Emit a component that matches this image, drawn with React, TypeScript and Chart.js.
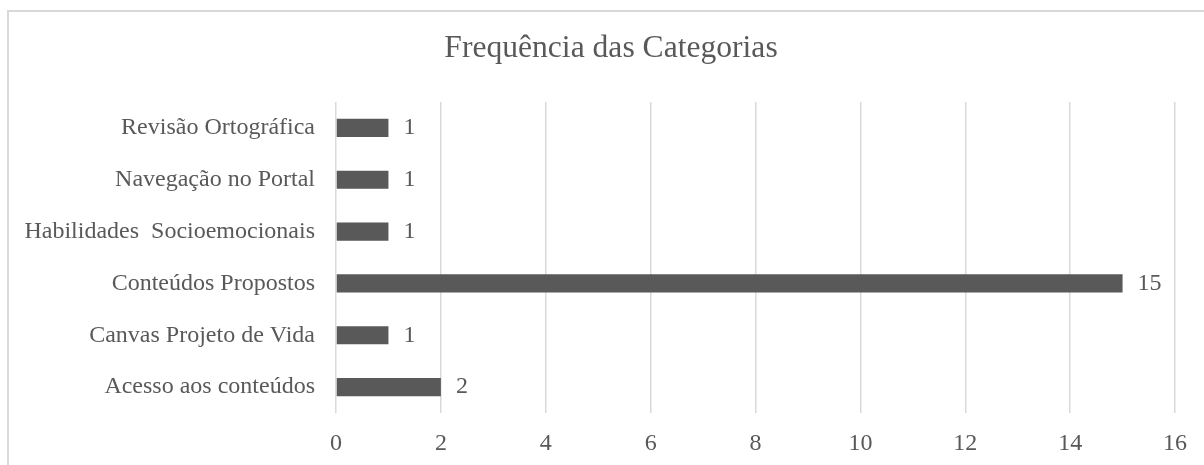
import React, { useEffect, useRef } from "react";
import { Chart, registerables } from "chart.js";

Chart.register(...registerables);

const title = "Frequência das Categorias";
const categories = [
  "Revisão Ortográfica",
  "Navegação no Portal",
  "Habilidades  Socioemocionais",
  "Conteúdos Propostos",
  "Canvas Projeto de Vida",
  "Acesso aos conteúdos",
];
const values = [1, 1, 1, 15, 1, 2];
const xMin = 0;
const xMax = 16;
const xStep = 2;

const FONT = "'Liberation Serif', 'Times New Roman', serif";
const TEXT = "#595959";

const dataLabelPlugin = {
  id: "dataLabels",
  afterDatasetsDraw(chart: any) {
    const ctx = chart.ctx;
    const meta = chart.getDatasetMeta(0);
    ctx.save();
    ctx.font = `24px ${FONT}`;
    ctx.fillStyle = TEXT;
    ctx.textAlign = "left";
    ctx.textBaseline = "middle";
    meta.data.forEach((bar: any, i: number) => {
      ctx.fillText(String(values[i]), bar.x + 15, bar.y);
    });
    ctx.restore();
  },
};

const titlePlugin = {
  id: "centeredTitle",
  afterDraw(chart: any) {
    const ctx = chart.ctx;
    ctx.save();
    ctx.font = `31.6px ${FONT}`;
    ctx.fillStyle = TEXT;
    ctx.textAlign = "center";
    ctx.textBaseline = "middle";
    ctx.fillText(title, 611, 48.5);
    ctx.restore();
  },
};

export default function App() {
  const ref = useRef<HTMLCanvasElement | null>(null);
  useEffect(() => {
    if (!ref.current) return;
    const chart = new Chart(ref.current, {
      type: "bar",
      data: {
        labels: categories,
        datasets: [
          {
            data: values,
            backgroundColor: "#595959",
            borderWidth: 0,
            barPercentage: 0.35,
            categoryPercentage: 1,
          },
        ],
      },
      options: {
        indexAxis: "y",
        animation: false,
        responsive: false,
        maintainAspectRatio: false,
        layout: { padding: { top: 102, left: 12, right: 47, bottom: 6.6 } },
        plugins: {
          legend: { display: false },
          tooltip: { enabled: false },
          title: { display: false },
        },
        scales: {
          x: {
            min: xMin,
            max: xMax,
            ticks: {
              stepSize: xStep,
              color: TEXT,
              padding: 16.6,
              font: { family: FONT, size: 24, lineHeight: 1.2 },
            },
            grid: { color: "#d9d9d9", lineWidth: 1.5, drawTicks: false },
            border: { display: false },
            afterFit(scale: any) {
              scale.height = 45.4;
            },
          },
          y: {
            ticks: {
              color: TEXT,
              padding: 21,
              font: { family: FONT, size: 24, lineHeight: 1.2 },
            },
            grid: { display: false, drawTicks: false },
            border: { display: false },
            afterFit(scale: any) {
              scale.width = 324;
            },
          },
        },
      },
      plugins: [dataLabelPlugin, titlePlugin],
    });
    return () => chart.destroy();
  }, []);

  return (
    <div
      style={{
        position: "fixed",
        left: 0,
        top: 0,
        width: 1204,
        height: 465,
        overflow: "hidden",
        background: "#fff",
      }}
    >
      <div
        style={{
          position: "absolute",
          left: 7,
          top: 10,
          width: 1300,
          height: 600,
          border: "2px solid #d9d9d9",
          boxSizing: "border-box",
        }}
      />
      <canvas
        ref={ref}
        width={1222}
        height={465}
        style={{ position: "absolute", left: 0, top: 0, width: 1222, height: 465 }}
      />
    </div>
  );
}
